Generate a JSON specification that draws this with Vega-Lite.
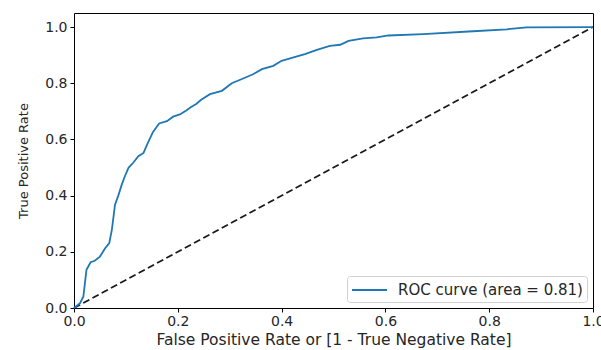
{
  "$schema": "https://vega.github.io/schema/vega-lite/v6.json",
  "width": 519,
  "height": 295,
  "autosize": {"type": "none"},
  "padding": {"left": 74, "top": 13, "right": 8, "bottom": 42},
  "background": "white",
  "config": {
    "font": "DejaVu Sans",
    "view": {"stroke": "#000", "strokeWidth": 1},
    "axis": {
      "grid": false,
      "domain": false,
      "tickColor": "#000",
      "tickSize": 4,
      "labelFontSize": 14,
      "labelColor": "#262626",
      "titleFontSize": 13,
      "titleFontWeight": "normal",
      "titleColor": "#262626",
      "labelFont": "DejaVu Sans",
      "titleFont": "DejaVu Sans"
    }
  },
  "layer": [
    {
      "data": {"values": [{"x": 0, "y": 0}, {"x": 1, "y": 1}]},
      "mark": {"type": "line", "color": "#1a1a1a", "strokeWidth": 1.8, "strokeDash": [7, 3.5]},
      "encoding": {
        "x": {"field": "x", "type": "quantitative"},
        "y": {"field": "y", "type": "quantitative"}
      }
    },
    {
      "data": {"values": [
        {"fpr": 0, "tpr": 0, "series": "ROC curve (area = 0.81)"},
        {"fpr": 0.0116, "tpr": 0.017, "series": "ROC curve (area = 0.81)"},
        {"fpr": 0.018, "tpr": 0.04, "series": "ROC curve (area = 0.81)"},
        {"fpr": 0.024, "tpr": 0.136, "series": "ROC curve (area = 0.81)"},
        {"fpr": 0.032, "tpr": 0.163, "series": "ROC curve (area = 0.81)"},
        {"fpr": 0.040, "tpr": 0.168, "series": "ROC curve (area = 0.81)"},
        {"fpr": 0.050, "tpr": 0.183, "series": "ROC curve (area = 0.81)"},
        {"fpr": 0.060, "tpr": 0.213, "series": "ROC curve (area = 0.81)"},
        {"fpr": 0.068, "tpr": 0.231, "series": "ROC curve (area = 0.81)"},
        {"fpr": 0.073, "tpr": 0.279, "series": "ROC curve (area = 0.81)"},
        {"fpr": 0.079, "tpr": 0.368, "series": "ROC curve (area = 0.81)"},
        {"fpr": 0.085, "tpr": 0.398, "series": "ROC curve (area = 0.81)"},
        {"fpr": 0.092, "tpr": 0.439, "series": "ROC curve (area = 0.81)"},
        {"fpr": 0.098, "tpr": 0.469, "series": "ROC curve (area = 0.81)"},
        {"fpr": 0.105, "tpr": 0.499, "series": "ROC curve (area = 0.81)"},
        {"fpr": 0.114, "tpr": 0.517, "series": "ROC curve (area = 0.81)"},
        {"fpr": 0.124, "tpr": 0.540, "series": "ROC curve (area = 0.81)"},
        {"fpr": 0.134, "tpr": 0.552, "series": "ROC curve (area = 0.81)"},
        {"fpr": 0.141, "tpr": 0.582, "series": "ROC curve (area = 0.81)"},
        {"fpr": 0.152, "tpr": 0.626, "series": "ROC curve (area = 0.81)"},
        {"fpr": 0.164, "tpr": 0.657, "series": "ROC curve (area = 0.81)"},
        {"fpr": 0.179, "tpr": 0.665, "series": "ROC curve (area = 0.81)"},
        {"fpr": 0.191, "tpr": 0.681, "series": "ROC curve (area = 0.81)"},
        {"fpr": 0.204, "tpr": 0.689, "series": "ROC curve (area = 0.81)"},
        {"fpr": 0.217, "tpr": 0.704, "series": "ROC curve (area = 0.81)"},
        {"fpr": 0.2235, "tpr": 0.713, "series": "ROC curve (area = 0.81)"},
        {"fpr": 0.236, "tpr": 0.727, "series": "ROC curve (area = 0.81)"},
        {"fpr": 0.245, "tpr": 0.741, "series": "ROC curve (area = 0.81)"},
        {"fpr": 0.262, "tpr": 0.761, "series": "ROC curve (area = 0.81)"},
        {"fpr": 0.285, "tpr": 0.773, "series": "ROC curve (area = 0.81)"},
        {"fpr": 0.304, "tpr": 0.800, "series": "ROC curve (area = 0.81)"},
        {"fpr": 0.326, "tpr": 0.817, "series": "ROC curve (area = 0.81)"},
        {"fpr": 0.345, "tpr": 0.832, "series": "ROC curve (area = 0.81)"},
        {"fpr": 0.362, "tpr": 0.850, "series": "ROC curve (area = 0.81)"},
        {"fpr": 0.384, "tpr": 0.862, "series": "ROC curve (area = 0.81)"},
        {"fpr": 0.400, "tpr": 0.880, "series": "ROC curve (area = 0.81)"},
        {"fpr": 0.423, "tpr": 0.892, "series": "ROC curve (area = 0.81)"},
        {"fpr": 0.445, "tpr": 0.904, "series": "ROC curve (area = 0.81)"},
        {"fpr": 0.468, "tpr": 0.919, "series": "ROC curve (area = 0.81)"},
        {"fpr": 0.493, "tpr": 0.933, "series": "ROC curve (area = 0.81)"},
        {"fpr": 0.513, "tpr": 0.937, "series": "ROC curve (area = 0.81)"},
        {"fpr": 0.529, "tpr": 0.951, "series": "ROC curve (area = 0.81)"},
        {"fpr": 0.557, "tpr": 0.960, "series": "ROC curve (area = 0.81)"},
        {"fpr": 0.583, "tpr": 0.963, "series": "ROC curve (area = 0.81)"},
        {"fpr": 0.606, "tpr": 0.970, "series": "ROC curve (area = 0.81)"},
        {"fpr": 0.673, "tpr": 0.975, "series": "ROC curve (area = 0.81)"},
        {"fpr": 0.769, "tpr": 0.985, "series": "ROC curve (area = 0.81)"},
        {"fpr": 0.834, "tpr": 0.992, "series": "ROC curve (area = 0.81)"},
        {"fpr": 0.872, "tpr": 0.999, "series": "ROC curve (area = 0.81)"},
        {"fpr": 1.0, "tpr": 1.0, "series": "ROC curve (area = 0.81)"}
      ]},
      "mark": {"type": "line", "strokeWidth": 1.8},
      "encoding": {
        "x": {
          "field": "fpr", "type": "quantitative",
          "scale": {"domain": [0, 1], "nice": false, "zero": false},
          "axis": {"values": [0, 0.2, 0.4, 0.6, 0.8, 1.0], "format": ".1f", "title": "False Positive Rate or [1 - True Negative Rate]", "titleFontSize": 15.5, "labelPadding": 2, "titlePadding": 4, "labelFlush": false}
        },
        "y": {
          "field": "tpr", "type": "quantitative",
          "scale": {"domain": [0, 1.05], "nice": false, "zero": false},
          "axis": {"values": [0, 0.2, 0.4, 0.6, 0.8, 1.0], "format": ".1f", "title": "True Positive Rate", "labelPadding": 3, "titlePadding": 14, "labelFlush": false}
        },
        "color": {
          "field": "series", "type": "nominal",
          "scale": {"domain": ["ROC curve (area = 0.81)"], "range": ["#1f77b4"]},
          "legend": {
            "title": null,
            "orient": "bottom-right",
            "offset": 6,
            "symbolType": "M-1,0H2.89",
            "symbolSize": 324,
            "symbolStrokeWidth": 1.8,
            "labelFontSize": 15,
            "labelLimit": 400,
            "labelColor": "#262626",
            "labelFont": "DejaVu Sans",
            "strokeColor": "#d0d0d0",
            "fillColor": "white",
            "cornerRadius": 3,
            "padding": 4,
            "labelOffset": 27
          }
        }
      }
    }
  ]
}
